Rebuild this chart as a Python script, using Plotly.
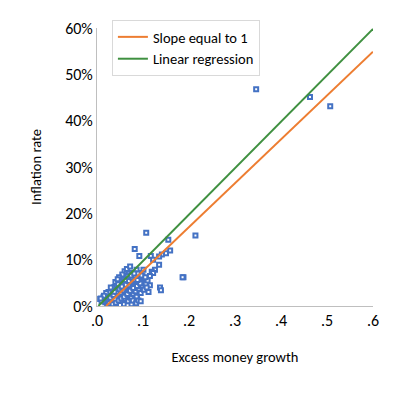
import plotly.graph_objects as go

# Scatter data: excess money growth (x) vs inflation rate (y)
money_growth = [
    0.346, 0.463, 0.507, 0.214, 0.107, 0.155, 0.188, 0.082, 0.092, 0.159,
    0.137, 0.139, 0.135, 0.115, 0.087, 0.070, 0.150, 0.141, 0.135, 0.117,
    0.122, 0.126, 0.119, 0.122, 0.115, 0.101, 0.093, 0.086, 0.099, 0.186,
    0.079, 0.014, 0.007,
    0.012, 0.015, 0.018, 0.020, 0.022, 0.024, 0.025, 0.027, 0.028, 0.030,
    0.031, 0.033, 0.034, 0.035, 0.036, 0.037, 0.038, 0.040, 0.041, 0.042,
    0.043, 0.044, 0.045, 0.046, 0.047, 0.048, 0.049, 0.050, 0.051, 0.052,
    0.053, 0.054, 0.055, 0.056, 0.057, 0.058, 0.059, 0.060, 0.061, 0.062,
    0.063, 0.064, 0.065, 0.066, 0.067, 0.068, 0.069, 0.070, 0.071, 0.072,
    0.073, 0.074, 0.075, 0.076, 0.077, 0.078, 0.079, 0.080, 0.081, 0.082,
    0.083, 0.084, 0.085, 0.086, 0.088, 0.090, 0.091, 0.093, 0.095, 0.096,
    0.098, 0.100, 0.102, 0.104, 0.106, 0.108, 0.110, 0.112, 0.075, 0.078,
    0.085, 0.090, 0.095, 0.058, 0.050, 0.040, 0.030, 0.025, 0.020, 0.015,
    0.060, 0.065, 0.072, 0.055, 0.048, 0.010, 0.008, 0.045,
    0.026, 0.032, 0.039, 0.044, 0.051, 0.057, 0.063, 0.068, 0.074, 0.080,
    0.029, 0.036, 0.043, 0.049, 0.055, 0.062, 0.069, 0.076, 0.083, 0.089,
    0.034, 0.041, 0.047, 0.053, 0.059, 0.066, 0.072, 0.079, 0.087, 0.094,
    0.038, 0.046, 0.054, 0.061, 0.067, 0.074, 0.081, 0.088, 0.097, 0.105,
]
inflation = [
    0.468, 0.451, 0.431, 0.152, 0.158, 0.143, 0.062, 0.123, 0.108, 0.120,
    0.040, 0.034, 0.089, 0.045, 0.018, 0.013, 0.114, 0.111, 0.107, 0.108,
    0.100, 0.078, 0.074, 0.071, 0.065, 0.078, 0.071, 0.078, 0.064, 0.062,
    0.064, 0.019, 0.015,
    0.015, 0.012, 0.008, 0.016, 0.005, 0.020, 0.010, 0.003, 0.025, 0.014,
    0.030, 0.008, 0.022, 0.035, 0.002, 0.017, 0.041, 0.028, 0.011, 0.045,
    0.033, 0.019, 0.006, 0.038, 0.050, 0.026, 0.014, 0.043, 0.031, 0.055,
    0.020, 0.009, 0.048, 0.036, 0.060, 0.025, 0.042, 0.015, 0.052, 0.032,
    0.065, 0.046, 0.022, 0.058, 0.038, 0.010, 0.070, 0.050, 0.030, 0.062,
    0.044, 0.018, 0.055, 0.072, 0.036, 0.048, 0.026, 0.060, 0.008, 0.042,
    0.068, 0.032, 0.054, 0.020, 0.046, 0.058, 0.038, 0.050, 0.028, 0.064,
    0.044, 0.052, 0.035, 0.060, 0.048, 0.040, 0.055, 0.030, 0.004, 0.012,
    0.006, 0.012, 0.010, 0.004, 0.002, 0.052, 0.040, 0.030, 0.028, 0.022,
    0.075, 0.080, 0.085, 0.068, 0.062, 0.010, 0.016, 0.058,
    0.006, 0.012, 0.015, 0.024, 0.028, 0.034, 0.041, 0.045, 0.052, 0.056,
    0.018, 0.024, 0.030, 0.036, 0.040, 0.046, 0.054, 0.062, 0.066, 0.070,
    0.004, 0.007, 0.012, 0.016, 0.020, 0.026, 0.033, 0.039, 0.043, 0.049,
    0.031, 0.047, 0.042, 0.056, 0.064, 0.066, 0.070, 0.056, 0.066, 0.062,
]

# Reference lines (endpoints)
slope1_x = [0.02, 0.60]
slope1_y = [0.0, 0.549]
regression_x = [0.003, 0.60]
regression_y = [0.0, 0.598]

x_tickvals = [0.0, 0.1, 0.2, 0.3, 0.4, 0.5, 0.6]
x_ticktext = [".0", ".1", ".2", ".3", ".4", ".5", ".6"]
y_tickvals = [0.0, 0.1, 0.2, 0.3, 0.4, 0.5, 0.6]

FONT = "Carlito, Calibri, 'Open Sans', sans-serif"

fig = go.Figure()
fig.add_trace(go.Scatter(
    x=money_growth, y=inflation, mode="markers", showlegend=False,
    marker=dict(symbol="square", size=4, color="white",
                line=dict(color="#4472C4", width=2)),
))
fig.add_trace(go.Scatter(
    x=slope1_x, y=slope1_y, mode="lines", name="Slope equal to 1",
    line=dict(color="#ED7D31", width=2),
))
fig.add_trace(go.Scatter(
    x=regression_x, y=regression_y, mode="lines", name="Linear regression",
    line=dict(color="#3F9040", width=2),
))

# page has an 8px body margin, so the figure is sized/offset to compensate
fig.update_layout(
    width=392, height=385,
    margin=dict(l=89, r=27, t=20, b=87, autoexpand=False),
    paper_bgcolor="white", plot_bgcolor="white",
    font=dict(family=FONT, color="#000000"),
    legend=dict(
        x=0.054, y=1.029, xanchor="left", yanchor="top",
        bordercolor="#d9d9d9", borderwidth=1, bgcolor="white",
        font=dict(size=14.5, family=FONT), tracegroupgap=2,
    ),
    xaxis=dict(
        range=[0, 0.6], tickvals=x_tickvals, ticktext=x_ticktext,
        showgrid=False, zeroline=False, showline=True, linecolor="#bfbfbf",
        linewidth=1, ticks="", tickfont=dict(size=16, family=FONT),
        automargin=False,
        title=dict(text="Excess money growth", font=dict(size=14.5, family=FONT),
                   standoff=22),
    ),
    yaxis=dict(
        range=[0, 0.6], tickvals=y_tickvals, tickformat=".0%",
        showgrid=False, zeroline=False, showline=True, linecolor="#bfbfbf",
        linewidth=1, ticks="", tickfont=dict(size=16, family=FONT),
        automargin=False,
        title=dict(text="Inflation rate", font=dict(size=14.5, family=FONT),
                   standoff=20),
    ),
)

fig.write_html("out.html")
